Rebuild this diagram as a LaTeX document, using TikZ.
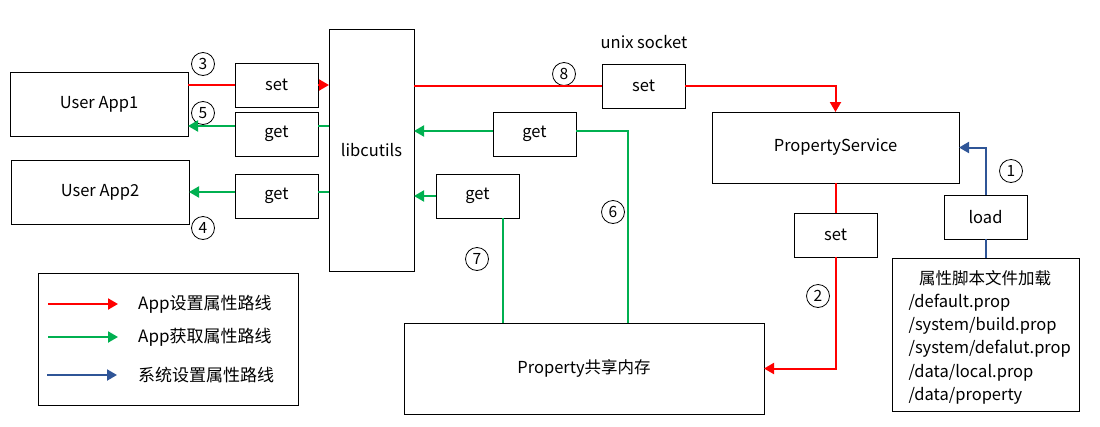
\documentclass[tikz,border=0pt]{standalone}
\usepackage{fontspec}
\setmainfont{Noto Sans CJK SC}
\usetikzlibrary{arrows.meta,positioning}
\definecolor{setred}{RGB}{255,0,0}
\definecolor{getgreen}{RGB}{0,176,80}
\definecolor{sysblue}{RGB}{47,85,151}
\tikzset{
  box/.style={draw, line width=1pt, inner sep=0pt, outer sep=0pt, font=\fontsize{16.5}{20}\selectfont},
  tag/.style={box, minimum width=83pt, minimum height=44pt},
  num/.style={draw, circle, line width=0.8pt, minimum size=23pt, inner sep=0pt, font=\fontsize{15.5}{18}\selectfont},
  legtext/.style={anchor=west, inner sep=0pt, font=\fontsize{17}{20}\selectfont},
  setline/.style={setred, line width=2pt},
  getline/.style={getgreen, line width=2pt},
  sysline/.style={sysblue, line width=2pt},
  tip/.style={-{Triangle[length=10pt,width=11pt]}},
}
\begin{document}
\begin{tikzpicture}[x=1pt, y=-1pt]
\useasboundingbox (0,0) rectangle (1100,426);
% boxes
\node[box, minimum width=178pt, minimum height=64pt] (app1) at (99,104) {User App1};
\node[box, minimum width=178pt, minimum height=64pt] (app2) at (100,192) {User App2};
\node[tag] (setA) at (276.5,85) {set};
\node[tag] (getA) at (276.5,134) {get};
\node[tag] (getB) at (276.5,196) {get};
\node[box, minimum width=85pt, minimum height=242pt] (lib) at (371.5,150) {libcutils};
\node[font=\fontsize{16.5}{20}\selectfont] (sock) at (644,42) {unix socket};
\node[tag] (setM) at (643.5,86) {set};
\node[tag] (getM) at (534.5,134) {get};
\node[tag] (getN) at (477.5,196) {get};
\node[box, minimum width=247pt, minimum height=71pt] (ps) at (835.5,147.5) {PropertyService};
\node[tag] (setP) at (835.5,235) {set};
\node[tag] (load) at (985.5,217) {load};
\node[box, minimum width=187pt, minimum height=153pt] (files) at (985.5,334.5) {};
\node[font=\fontsize{16.5}{20}\selectfont] (ftitle) at (985,278) {属性脚本文件加载};
\node[anchor=west, align=left, font=\fontsize{16.5}{23.3}\selectfont] (flist) at (905,349)
  {/default.prop\\/system/build.prop\\/system/defalut.prop\\/data/local.prop\\/data/property};
\node[box, minimum width=360pt, minimum height=91pt] (shm) at (584,368.5) {Property共享内存};
% legend
\node[box, minimum width=260pt, minimum height=132pt] (legend) at (168,339) {};
\node[legtext] (lg1) at (138,304) {App设置属性路线};
\node[legtext] (lg2) at (138,337) {App获取属性路线};
\node[legtext] (lg3) at (138,375) {系统设置属性路线};
\draw[setline, tip] ([xshift=-90pt]lg1.west) -- ([xshift=-20pt]lg1.west);
\draw[getline, tip] ([xshift=-90pt]lg2.west) -- ([xshift=-20pt]lg2.west);
\draw[sysline, tip] ([xshift=-91pt]lg3.west) -- ([xshift=-21pt]lg3.west);
% numbers
\node[num] (n1) at (1011,171) {1};
\node[num] (n2) at (818,296) {2};
\node[num] (n3) at (203,64) {3};
\node[num] (n4) at (203,228) {4};
\node[num] (n5) at (203,113) {5};
\node[num] (n6) at (613,212) {6};
\node[num] (n7) at (477,259) {7};
\node[num] (n8) at (564,74) {8};
% set path
\draw[setline] (app1.east |- setA.west) -- (setA.west);
\draw[setline, tip] (setA.east) -- (setA.east -| lib.west);
\draw[setline] (lib.east |- setM.west) -- (setM.west);
\draw[setline, tip] (setM.east) -| (ps.north);
\draw[setline] (ps.south) -- (setP.north);
\draw[setline, tip] (setP.south) |- (shm.east);
% get path
\draw[getline, tip] ([yshift=8pt]getA.west) -- ([yshift=8pt]getA.west -| app1.east);
\draw[getline] ([yshift=8pt]getA.east) -- ([yshift=8pt]getA.east -| lib.west);
\draw[getline, tip] ([yshift=4pt]getB.west) -- ([yshift=4pt]getB.west -| app2.east);
\draw[getline] ([yshift=4pt]getB.east) -- ([yshift=4pt]getB.east -| lib.west);
\draw[getline, tip] ([yshift=3pt]getM.west) -- ([yshift=3pt]getM.west -| lib.east);
\draw[getline] ([yshift=3pt]getM.east) -| ([xshift=44pt]shm.north);
\draw[getline, tip] (getN.west) -- (getN.west -| lib.east);
\draw[getline] ([xshift=25.5pt]getN.south) -- ([xshift=25.5pt]getN.south |- shm.north);
% load path
\draw[sysline] (files.north) -- (load.south);
\draw[sysline, tip] (load.north) |- (ps.east);
\end{tikzpicture}
\end{document}
